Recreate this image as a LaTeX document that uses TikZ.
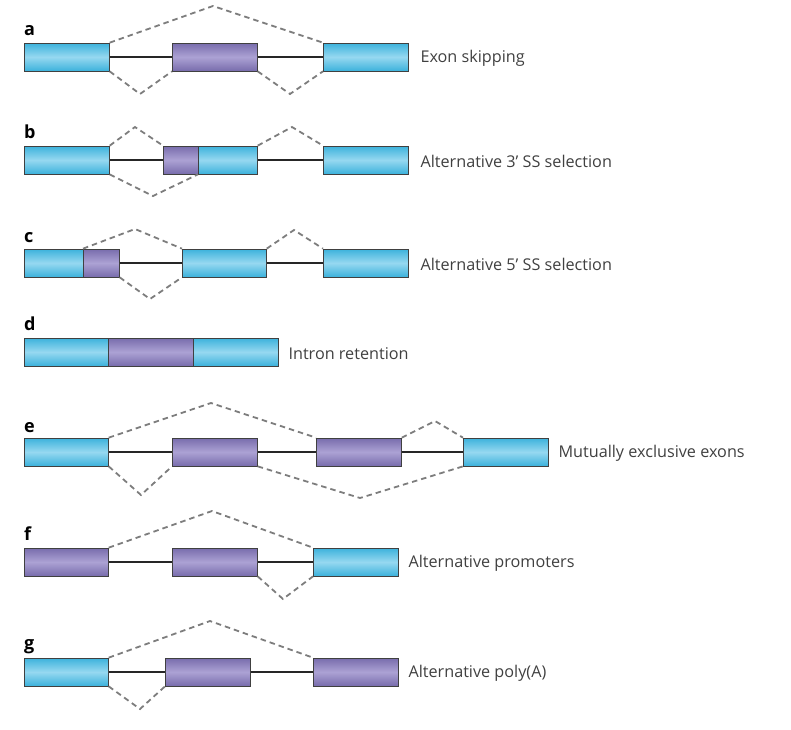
\documentclass[tikz,border=0pt]{standalone}
\usepackage{fontspec}
\setmainfont{Open Sans}
\usepackage{tikz}
\definecolor{exblue}{RGB}{60,178,220}
\definecolor{exbluel}{RGB}{150,216,240}
\definecolor{expurp}{RGB}{120,108,172}
\definecolor{expurpl}{RGB}{172,162,212}
\definecolor{jgrey}{RGB}{125,125,125}

\begin{document}
\begin{tikzpicture}[x=1pt,y=-1pt,
  exon/.style={draw=black!75,line width=0.7pt,anchor=west,minimum height=28pt,minimum width=85pt,inner sep=0pt},
  cex/.style={exon,top color=exblue,bottom color=exblue,middle color=exbluel},
  aex/.style={exon,top color=expurp,bottom color=expurp,middle color=expurpl},
  intron/.style={line width=1.6pt,black!85},
  junc/.style={line width=1.8pt,jgrey,dash pattern=on 5.5pt off 4pt},
  lab/.style={anchor=west,yshift=-1.5pt,text=black!75,font=\fontsize{16.2}{18}\selectfont},
  tag/.style={anchor=base west,font=\fontsize{18}{20}\selectfont\bfseries,inner sep=0pt}]
  \useasboundingbox (0,0) rectangle (791,729);
  % a
  \node[tag] (ta) at (24,35) {a};
  \node[cex] (a1) at (24,57) {};
  \node[aex] (a2) at (172,57) {};
  \node[cex] (a3) at (323,57) {};
  \node[lab] (la) at (417,57) {Exon skipping};
  \draw[intron] (a1.east) -- (a2.west) (a2.east) -- (a3.west);
  \draw[junc] (a1.north east) -- (213,6) -- (a3.north west);
  \draw[junc] (a1.south east) -- (140,94) -- (a2.south west) (a2.south east) -- (290,94) -- (a3.south west);
  % b
  \node[tag] (tb) at (24,138) {b};
  \node[cex] (b1) at (24,160) {};
  \node[aex,minimum width=35pt] (b2) at (163,160) {};
  \node[cex,minimum width=59pt] (b3) at (198,160) {};
  \node[cex] (b4) at (323,160) {};
  \node[lab] (lb) at (417,160) {Alternative 3’ SS selection};
  \draw[intron] (b1.east) -- (b2.west) (b3.east) -- (b4.west);
  \draw[junc] (b1.north east) -- (135,127) -- (b2.north west) (b3.north east) -- (292,127) -- (b4.north west);
  \draw[junc] (b1.south east) -- (153,196) -- (b3.south west);
  % c
  \node[tag] (tc) at (24,242) {c};
  \node[cex,minimum width=59pt] (c1) at (24,263) {};
  \node[aex,minimum width=36pt] (c2) at (83,263) {};
  \node[cex,minimum width=84pt] (c3) at (182,263) {};
  \node[cex] (c4) at (323,263) {};
  \node[lab] (lc) at (417,263) {Alternative 5’ SS selection};
  \draw[intron] (c2.east) -- (c3.west) (c3.east) -- (c4.west);
  \draw[junc] (c2.north west) -- (135,229) -- (c3.north west) (c3.north east) -- (294,230) -- (c4.north west);
  \draw[junc] (c2.south east) -- (150,299) -- (c3.south west);
  % d
  \node[tag] (td) at (24,330) {d};
  \node[cex,minimum width=84pt] (d1) at (24,352) {};
  \node[aex] (d2) at (108,352) {};
  \node[cex] (d3) at (193,352) {};
  \node[lab] (ld) at (285,352) {Intron retention};
  % e
  \node[tag] (te) at (24,432) {e};
  \node[cex,minimum width=84pt] (e1) at (24,452) {};
  \node[aex] (e2) at (172,452) {};
  \node[aex] (e3) at (316,452) {};
  \node[cex] (e4) at (463,452) {};
  \node[lab] (le) at (555,452) {Mutually exclusive exons};
  \draw[intron] (e1.east) -- (e2.west) (e2.east) -- (e3.west) (e3.east) -- (e4.west);
  \draw[junc] (e1.north east) -- (211,403) -- (e3.north west) (e3.north east) -- (435,421) -- (e4.north west);
  \draw[junc] (e1.south east) -- (141,495) -- (e2.south west) (e2.south east) -- (360,498) -- (e4.south west);
  % f
  \node[tag] (tf) at (24,540) {f};
  \node[aex,minimum width=84pt] (f1) at (24,562) {};
  \node[aex] (f2) at (172,562) {};
  \node[cex] (f3) at (313,562) {};
  \node[lab] (lf) at (405,562) {Alternative promoters};
  \draw[intron] (f1.east) -- (f2.west) (f2.east) -- (f3.west);
  \draw[junc] (f1.north east) -- (212,511) -- (f3.north west);
  \draw[junc] (f2.south east) -- (283,599) -- (f3.south west);
  % g
  \node[tag] (tg) at (24,649) {g};
  \node[cex,minimum width=84pt] (g1) at (24,672) {};
  \node[aex] (g2) at (165,672) {};
  \node[aex] (g3) at (313,672) {};
  \node[lab] (lg) at (405,672) {Alternative poly(A)};
  \draw[intron] (g1.east) -- (g2.west) (g2.east) -- (g3.west);
  \draw[junc] (g1.north east) -- (210,621) -- (g3.north west);
  \draw[junc] (g1.south east) -- (140,709) -- (g2.south west);
\end{tikzpicture}
\end{document}
